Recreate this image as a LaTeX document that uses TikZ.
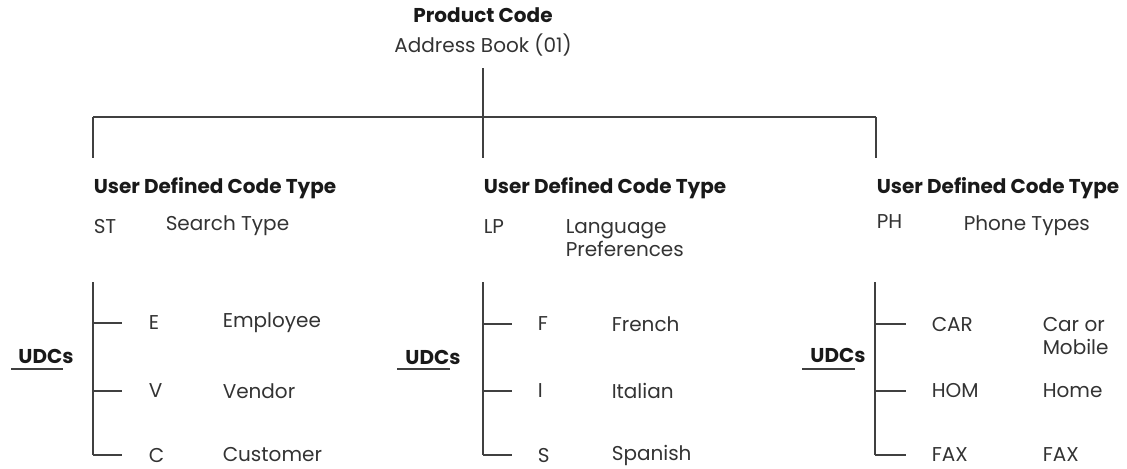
\documentclass[tikz,border=0pt]{standalone}
\usepackage{fontspec}
\setmainfont{Poppins}
\usepackage{tikz}
\usetikzlibrary{
  calc,        % 坐标计算
  positioning  % 节点相对定位
}

\begin{document}
\begin{tikzpicture}[x=0.5pt, y=-0.5pt, line width=0.75pt, black!75,
  txt/.style={anchor=west, inner sep=0pt, text=black!80, font=\fontsize{10}{11.5}\selectfont},
  hdr/.style={txt, text=black!90, font=\fontsize{10}{11.5}\selectfont\bfseries},
  udc/.style={hdr, anchor=center}]

  \useasboundingbox (0,0) rectangle (1127,468);

  % =========== 顶层：产品代码 ===========
  \node[hdr, anchor=center] (prod) at (483,15) {Product Code};
  \node[txt, anchor=center] (addr) at (483,45) {Address Book (01)};
  \coordinate (top) at (483,68);
  \coordinate (barL) at (93,117);
  \coordinate (barM) at (483,117);
  \coordinate (barR) at (876,117);
  % 主干与横杠
  \draw (top) -- (483,158);
  \draw (barL) -- (barR);
  \draw (barL) -- (93,158);
  \draw (barR) -- (876,158);

  % =========== 第一列：ST ===========
  \begin{scope}[shift={(93,0)}]
    \node[hdr] (typeST) at (0,188) {User Defined Code Type};
    \node[txt] (codeST) at (0,226) {ST};
    \node[txt] (descST) at (72,226) {Search Type};
    % 竖线与分支
    \coordinate (stA) at (0,282);
    \coordinate (stB) at (0,455);
    \draw (stA) -- (stB);
    \foreach \yy/\cc/\dd in {323/E/Employee, 391/V/Vendor, 455/C/Customer} {
      \draw (0,\yy) -- (29,\yy);
      \node[txt] at (55,\yy) {\cc};
      \node[txt] at (129,\yy) {\dd};
    }
    \node[udc] (udcST) at (-47,356) {UDCs};
    \draw ($(udcST.center)+(-35,13)$) -- ($(udcST.center)+(17,13)$);
  \end{scope}

  % =========== 第二列：LP ===========
  \begin{scope}[shift={(483,0)}]
    \node[hdr] (typeLP) at (0,188) {User Defined Code Type};
    \node[txt] (codeLP) at (0,227) {LP};
    \node[txt, align=left] (descLP) at (82,238) {Language\\Preferences};
    % 竖线与分支
    \coordinate (lpA) at (0,282);
    \coordinate (lpB) at (0,455);
    \draw (lpA) -- (lpB);
    \foreach \yy/\cc/\dd in {324/F/French, 391/I/Italian, 455/S/Spanish} {
      \draw (0,\yy) -- (29,\yy);
      \node[txt] at (54,\yy) {\cc};
      \node[txt] at (128,\yy) {\dd};
    }
    \node[udc] (udcLP) at (-50,357) {UDCs};
    \draw ($(udcLP.center)+(-36,12)$) -- ($(udcLP.center)+(17,12)$);
  \end{scope}

  % =========== 第三列：PH ===========
  \begin{scope}[shift={(876,0)}]
    \node[hdr] (typePH) at (0,188) {User Defined Code Type};
    \node[txt] (codePH) at (0,222) {PH};
    \node[txt] (descPH) at (87,226) {Phone Types};
    % 竖线与分支
    \coordinate (phA) at (-1,282);
    \coordinate (phB) at (-1,455);
    \draw (phA) -- (phB);
    \node[txt, align=left] at (166,336) {Car or\\Mobile};
    \foreach \yy/\cc/\dd in {324/CAR/{}, 391/HOM/Home, 455/FAX/FAX} {
      \draw (-1,\yy) -- (30,\yy);
      \node[txt] at (55,\yy) {\cc};
      \node[txt] at (166,\yy) {\dd};
    }
    \node[udc] (udcPH) at (-38,355) {UDCs};
    \draw ($(udcPH.center)+(-36,14)$) -- ($(udcPH.center)+(17,14)$);
  \end{scope}

\end{tikzpicture}
\end{document}
